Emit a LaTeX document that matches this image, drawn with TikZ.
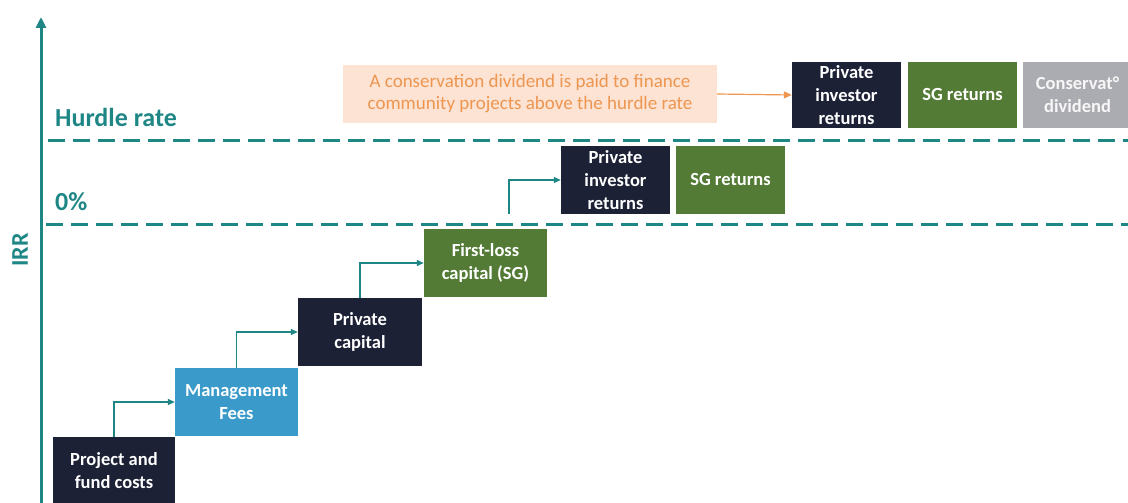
\documentclass[tikz,border=0pt]{standalone}
\usepackage{fontspec}
\setmainfont{Carlito}
\usetikzlibrary{arrows.meta}
\definecolor{navy}{HTML}{1C2136}
\definecolor{sgreen}{HTML}{537B35}
\definecolor{mblue}{HTML}{3A9AC9}
\definecolor{cgray}{HTML}{ABABB2}
\definecolor{teal2}{HTML}{1F8686}
\definecolor{peach}{HTML}{FCE3D3}
\definecolor{orangetxt}{HTML}{EE9650}
\tikzset{
  box/.style={draw=none, inner sep=2pt, align=center, text=white,
    font=\bfseries\fontsize{18.5}{23}\selectfont, minimum height=68pt},
  flow/.style={draw=teal2, line width=1.8pt, -{Triangle[length=7pt,width=6pt]}},
  level/.style={draw=teal2, line width=3pt, dash pattern=on 17pt off 8pt},
  lbl/.style={text=teal2, font=\bfseries\fontsize{26}{30}\selectfont, inner sep=0pt},
}
\begin{document}
\begin{tikzpicture}[x=1pt,y=-1pt]
\useasboundingbox (0,0) rectangle (1128,503);
% axis
\coordinate (ax0) at (41,505);
\coordinate (ax1) at (41,17);
\draw[draw=teal2, line width=3pt, -{Triangle[length=11pt,width=10pt]}] (ax0) -- (ax1);
\node[lbl, rotate=90, font=\bfseries\fontsize{24}{28}\selectfont] (irr) at (20,250) {IRR};
% levels
\coordinate (h0) at (48,140);
\coordinate (h1) at (1130,140);
\coordinate (z0) at (46,224);
\coordinate (z1) at (1130,224);
\draw[level] (h0) -- (h1);
\draw[level] (z0) -- (z1);
\node[lbl, anchor=west] (hurdle) at (55,117) {Hurdle rate};
\node[lbl, anchor=west] (zero) at (55,202) {0\%};
% boxes
\node[box, fill=navy, minimum width=122pt] (pfc) at (114,471) {Project and\\fund costs};
\node[box, fill=mblue, minimum width=123pt] (mgmt) at (236.5,402) {Management\\Fees};
\node[box, fill=navy, minimum width=124pt] (pc) at (360,332) {Private\\capital};
\node[box, fill=sgreen, minimum width=123pt] (fl) at (485.5,263) {First-loss\\capital (SG)};
\node[box, fill=navy, minimum width=109pt] (pir1) at (615.5,180) {Private\\investor\\returns};
\node[box, fill=sgreen, minimum width=109pt] (sg1) at (730.5,180) {SG returns};
\node[box, fill=navy, minimum width=109pt, minimum height=66pt] (pir2) at (846.5,95) {Private\\investor\\returns};
\node[box, fill=sgreen, minimum width=109pt, minimum height=66pt] (sg2) at (962.5,95) {SG returns};
\node[box, fill=cgray, text=white!90!cgray, minimum width=109pt, minimum height=66pt] (cd) at (1077.5,95) {Conservat°\\dividend};
\node[fill=peach, text=orangetxt, minimum width=374pt, minimum height=58pt, align=center,
  font=\fontsize{19}{22}\selectfont] (note) at (530,94) {A conservation dividend is paid to finance\\community projects above the hurdle rate};
% connectors
\draw[flow] (pfc.north) |- (mgmt.west);
\draw[flow] (mgmt.north) |- (pc.west);
\draw[flow] (pc.north) |- (fl.west);
\coordinate (s4) at (509,214);
\draw[flow] (s4) |- (pir1.west);
\draw[draw=orangetxt, line width=1.2pt, -{Triangle[length=8pt,width=7pt]}] (note.east) -- (pir2.west);
\end{tikzpicture}
\end{document}
